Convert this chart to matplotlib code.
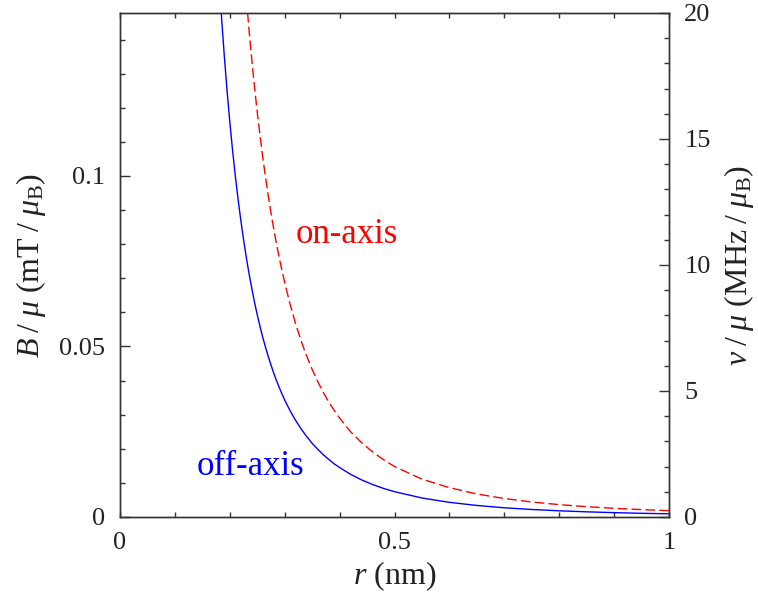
import matplotlib
matplotlib.use('Agg')
import matplotlib.pyplot as plt
from matplotlib.ticker import MultipleLocator, FixedLocator

plt.rcParams['font.family'] = ['Liberation Serif', 'DejaVu Serif']
plt.rcParams['mathtext.fontset'] = 'custom'
plt.rcParams['mathtext.rm'] = 'Liberation Serif'
plt.rcParams['mathtext.it'] = 'Liberation Serif:italic'
plt.rcParams['mathtext.bf'] = 'Liberation Serif:bold'

# dipole field per moment vs distance
r_off = [0.18, 0.185, 0.19, 0.195, 0.20, 0.205, 0.21, 0.215, 0.22, 0.225,
         0.23, 0.235, 0.24, 0.245, 0.25, 0.255, 0.26, 0.265, 0.27, 0.275,
         0.28, 0.285, 0.29, 0.295, 0.30, 0.31, 0.32, 0.33, 0.34, 0.35, 0.36,
         0.37, 0.38, 0.39, 0.40, 0.42, 0.44, 0.46, 0.48, 0.50, 0.55, 0.60,
         0.65, 0.70, 0.75, 0.80, 0.85, 0.90, 0.95, 1.00]
b_off = [0.1590, 0.1464, 0.1352, 0.1250, 0.1159, 0.1076, 0.1001, 0.0933,
         0.0871, 0.0814, 0.0762, 0.0714, 0.0671, 0.0630, 0.0593, 0.0559,
         0.0527, 0.0498, 0.0471, 0.0446, 0.0422, 0.0400, 0.0380, 0.0361,
         0.0343, 0.0311, 0.0283, 0.0258, 0.0236, 0.0216, 0.0199, 0.0183,
         0.0169, 0.0156, 0.0145, 0.01251, 0.01088, 0.00952, 0.00838,
         0.00742, 0.00557, 0.00429, 0.00338, 0.00270, 0.00220, 0.00181,
         0.00151, 0.00127, 0.00108, 0.00093]

r_on = [0.22, 0.225, 0.23, 0.235, 0.24, 0.245, 0.25, 0.255, 0.26, 0.265,
        0.27, 0.275, 0.28, 0.285, 0.29, 0.295, 0.30, 0.31, 0.32, 0.33, 0.34,
        0.35, 0.36, 0.37, 0.38, 0.39, 0.40, 0.42, 0.44, 0.46, 0.48, 0.50,
        0.55, 0.60, 0.65, 0.70, 0.75, 0.80, 0.85, 0.90, 0.95, 1.00]
b_on = [0.1742, 0.1628, 0.1525, 0.1429, 0.1342, 0.1261, 0.1187, 0.1119,
        0.1055, 0.0997, 0.0942, 0.0892, 0.0845, 0.0801, 0.0761, 0.0723,
        0.0687, 0.0623, 0.0566, 0.0516, 0.0472, 0.0433, 0.0398, 0.0366,
        0.0338, 0.0313, 0.0290, 0.0250, 0.0218, 0.0191, 0.0168, 0.0148,
        0.0111, 0.00859, 0.00675, 0.00541, 0.00440, 0.00362, 0.00302,
        0.00254, 0.00216, 0.00186]

b_max = 0.1478
nu_max = 20

fig = plt.figure(figsize=(7.58, 6.01), dpi=100)
ax = fig.add_axes([0.1583, 0.1398, 0.7243, 0.8386])

ax.plot(r_off, b_off, color='#0000ff', lw=1.0)
ax.plot(r_on, b_on, color='#ff0000', lw=1.0, dashes=(7, 3))

ax.text(0.3206, 0.0804, 'on-axis', color='#ff0000', fontsize=25,
        va='baseline', ha='left')
ax.text(0.140, 0.0123, 'off-axis', color='#0000ff', fontsize=25,
        va='baseline', ha='left')

ax.set_xlim(0, 1)
ax.set_ylim(0, b_max)

ax.xaxis.set_major_locator(FixedLocator([0, 0.5, 1]))
ax.xaxis.set_minor_locator(MultipleLocator(0.1))
ax.set_xticklabels(['0', '0.5', '1'])
ax.yaxis.set_major_locator(FixedLocator([0, 0.05, 0.1]))
ax.yaxis.set_minor_locator(MultipleLocator(0.01))
ax.set_yticklabels(['0', '0.05', '0.1'])

ax.tick_params(axis='x', which='both', direction='in', top=True, bottom=True,
               length=3.8, width=1.0, color='#333333', labelsize=19,
               pad=11, labelcolor='#222222')
ax.tick_params(axis='y', which='major', direction='in', left=True, right=False,
               length=7.2, width=1.0, color='#333333', labelsize=19,
               pad=11, labelcolor='#222222')
ax.tick_params(axis='y', which='minor', direction='in', left=True, right=False,
               length=3.4, width=1.0, color='#333333')

ax2 = ax.twinx()
ax2.set_ylim(0, nu_max)
ax2.yaxis.set_major_locator(MultipleLocator(5))
ax2.yaxis.set_minor_locator(MultipleLocator(1))
ax2.tick_params(axis='y', which='major', direction='in', length=7.2, width=1.0,
                color='#333333', labelsize=19, pad=11, labelcolor='#222222')
ax2.tick_params(axis='y', which='minor', direction='in', length=3.4, width=1.0,
                color='#333333')

for a in (ax, ax2):
    for s in a.spines.values():
        s.set_linewidth(1.0)
        s.set_color('#333333')

ax.set_xlabel('$r$ (nm)', fontsize=23, color='#222222', labelpad=4)
ax.set_ylabel(r'$B\;/\;\mu$ (mT$\;/\;\mu_{\mathrm{B}}$)', fontsize=23,
              color='#222222', labelpad=8)
ax2.set_ylabel(r'$\nu\;/\;\mu$ (MHz$\;/\;\mu_{\mathrm{B}}$)', fontsize=23,
               color='#222222', labelpad=8)

fig.savefig('out.png', dpi=100)
